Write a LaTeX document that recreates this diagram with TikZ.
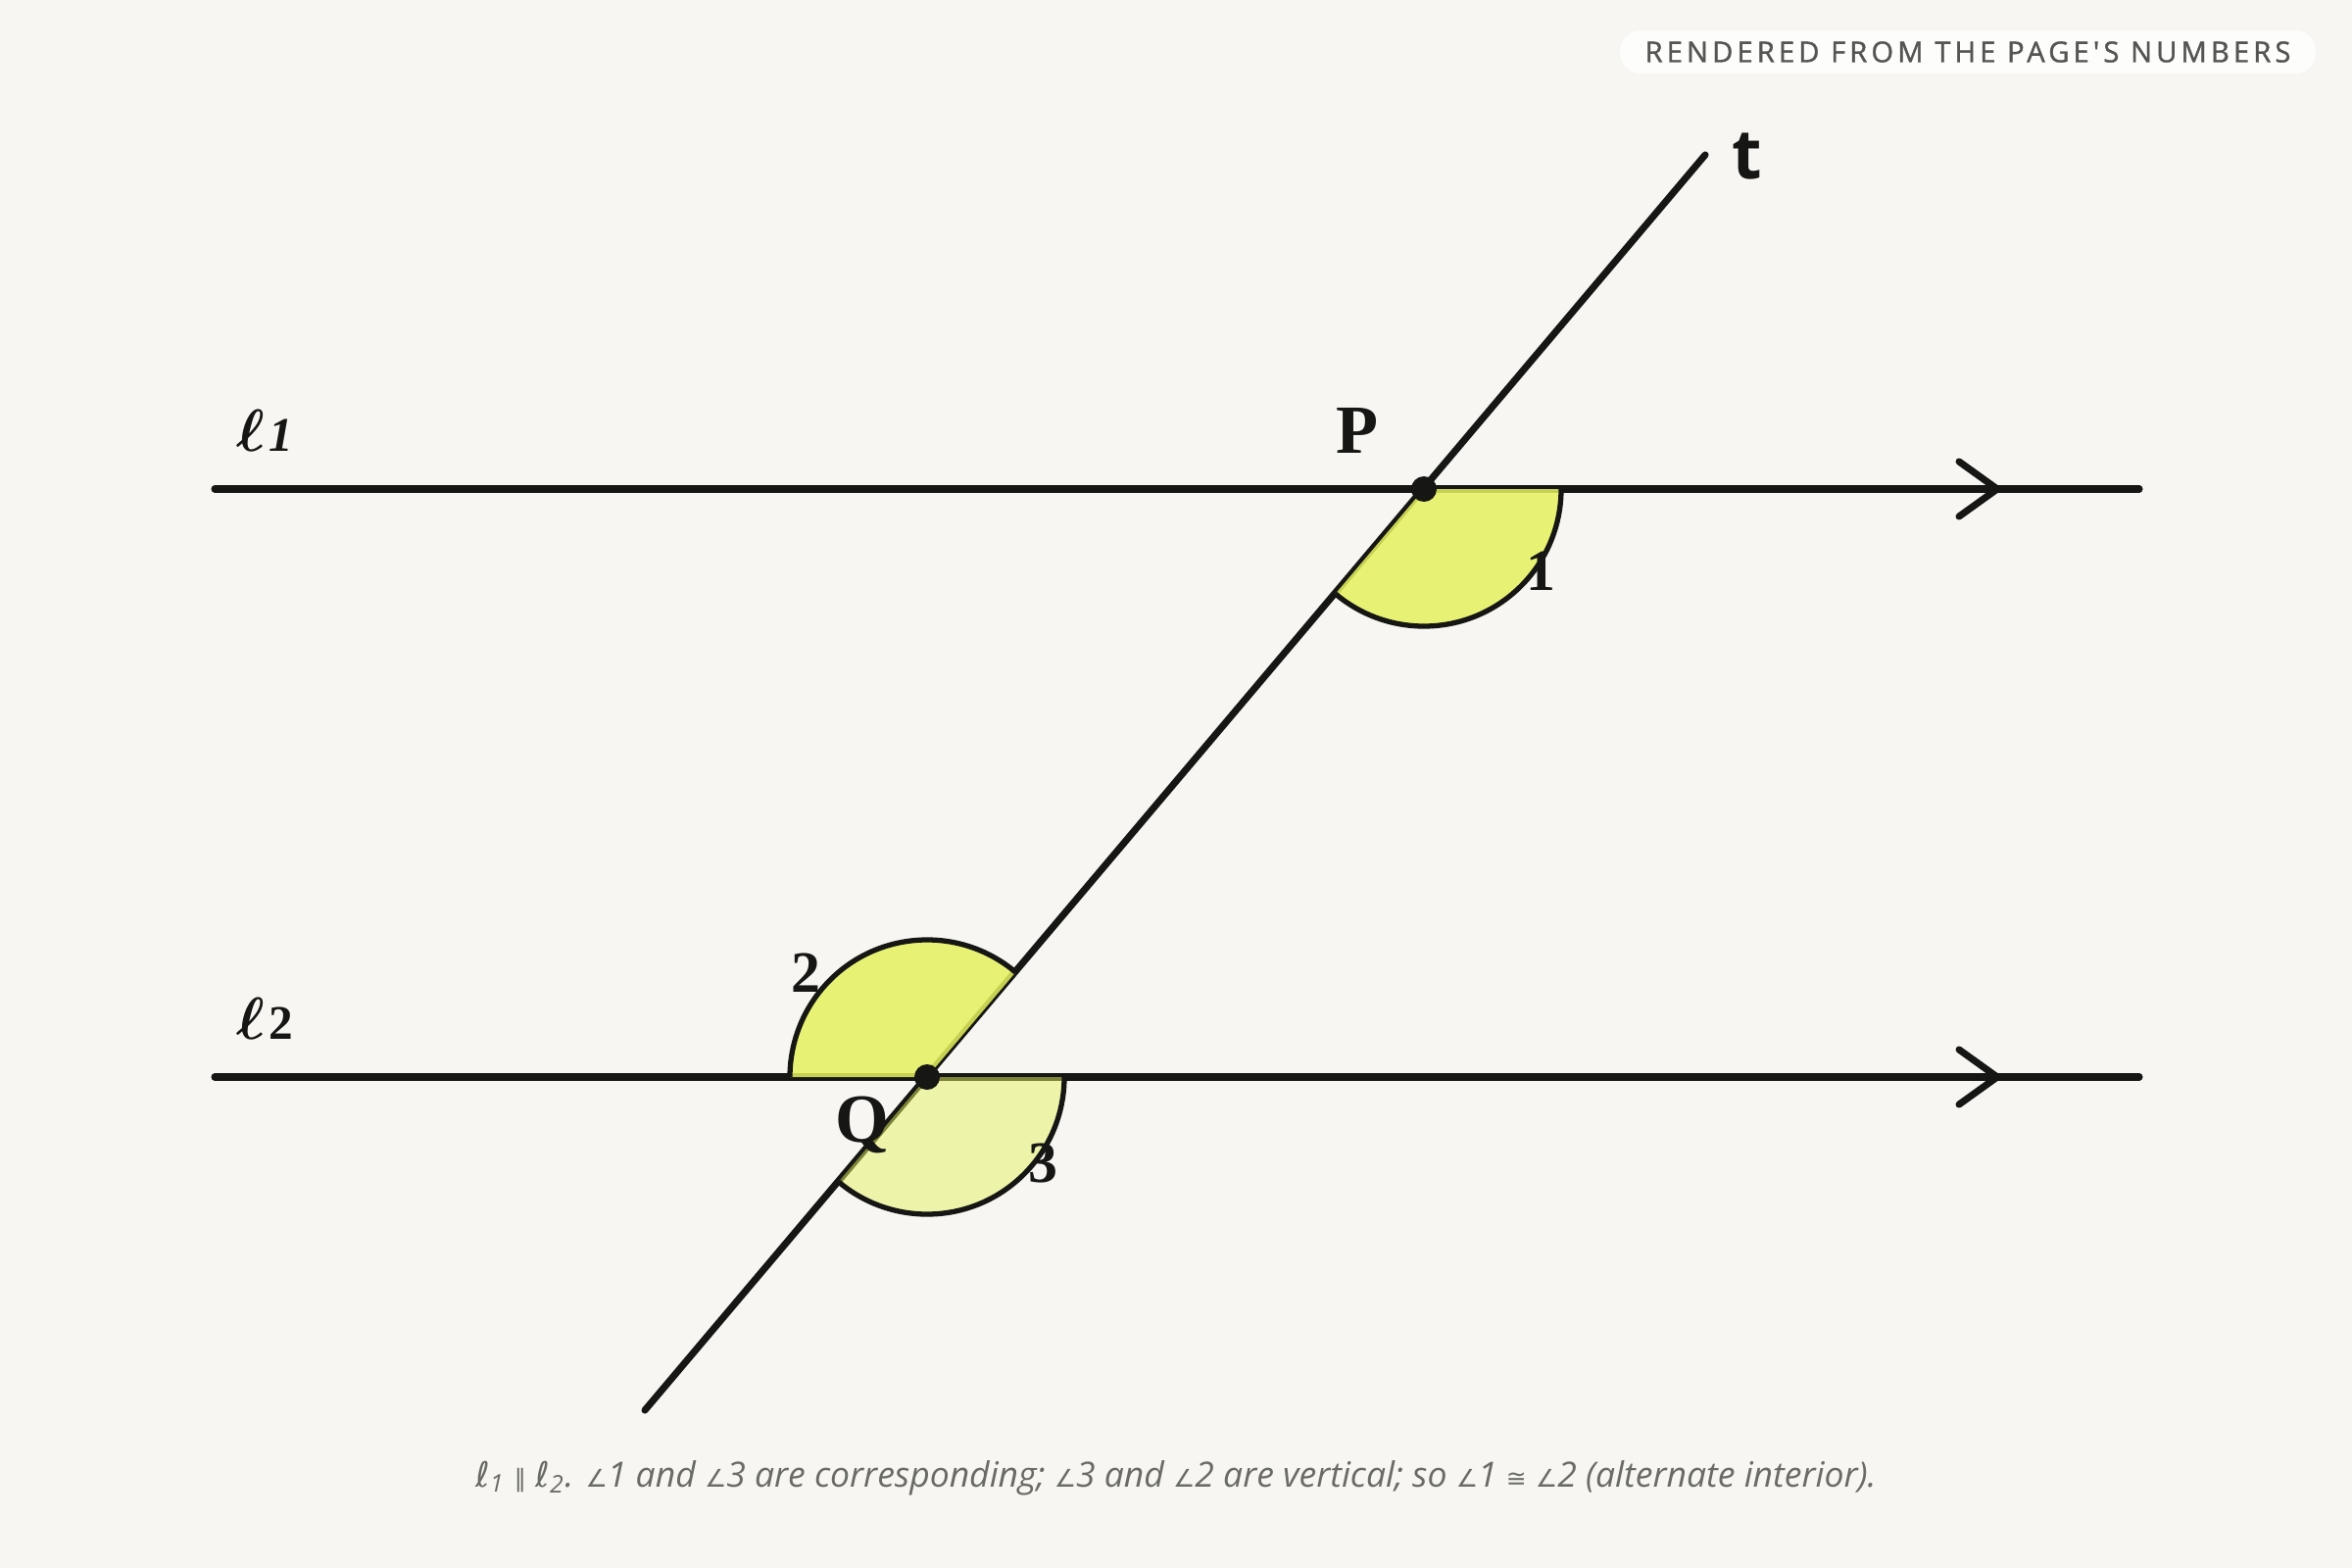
\documentclass[tikz,border=0pt]{standalone}
\usepackage{fontspec}
\setmainfont{Liberation Serif}
\newfontfamily\capfont{Open Sans}
\newfontfamily\badgefont[LetterSpace=14,FakeBold=1.2]{Open Sans}
\newfontfamily\symfont{DejaVu Sans}
\newfontfamily\symsmall[Scale=0.7]{DejaVu Sans}
\newfontfamily\tfont{Open Sans}
\definecolor{bg}{HTML}{F7F6F2}
\definecolor{ink}{HTML}{161614}
\definecolor{angfill}{HTML}{E5F25F}
\definecolor{capgray}{HTML}{6A6A66}
\definecolor{badgegray}{HTML}{555553}
\tikzset{
  geoline/.style={draw=ink, line width=2pt, line cap=round, line join=round},
  chevron/.style={draw=ink, line width=2pt, line cap=round, line join=miter},
  anglefill/.style={fill=angfill, fill opacity=0.85},
  anglefilllight/.style={fill=angfill, fill opacity=0.5},
  anglearc/.style={draw=ink, line width=1.5pt},
  vertexdot/.style={circle, fill=ink, inner sep=0pt, minimum size=26*0.01cm},
  ptlabel/.style={font=\fontsize{20}{24}\selectfont\bfseries, text=ink},
  numlabel/.style={font=\fontsize{17}{20}\selectfont\bfseries, text=ink},
  linelabel/.style={font=\fontsize{19}{24}\selectfont, text=ink},
}
\begin{document}
\begin{tikzpicture}[x=0.01cm,y=0.01cm]
\fill[bg] (0,0) rectangle (2400,-1600);
\useasboundingbox (0,0) rectangle (2400,-1600);
% key points
\coordinate (P) at (1453,-499);
\coordinate (Q) at (946,-1099);
\coordinate (tA) at (658,-1439);
\coordinate (tB) at (1740,-158);
\coordinate (l1a) at (219,-499);
\coordinate (l1b) at (2183,-499);
\coordinate (l2a) at (219,-1099);
\coordinate (l2b) at (2183,-1099);
\coordinate (c1t) at (2038,-499);
\coordinate (c1u) at (1999,-471);
\coordinate (c1d) at (1999,-527);
\coordinate (c2t) at (2038,-1099);
\coordinate (c2u) at (1999,-1071);
\coordinate (c2d) at (1999,-1127);
% lines
\draw[geoline] (l1a) -- (l1b);
\draw[geoline] (l2a) -- (l2b);
\draw[geoline] (tA) -- (tB);
\draw[chevron] (c1u) -- (c1t) -- (c1d);
\draw[chevron] (c2u) -- (c2t) -- (c2d);
% angle fills
\fill[anglefill] (P) -- ([shift={(0:140)}]P) arc[start angle=0, end angle=-130.2, radius=140] -- cycle;
\fill[anglefill] (Q) -- ([shift={(49.8:140)}]Q) arc[start angle=49.8, end angle=180, radius=140] -- cycle;
\fill[anglefilllight] (Q) -- ([shift={(0:140)}]Q) arc[start angle=0, end angle=-130.2, radius=140] -- cycle;
% arcs
\draw[anglearc] ([shift={(0:140)}]P) arc[start angle=0, end angle=-130.2, radius=140];
\draw[anglearc] ([shift={(49.8:140)}]Q) arc[start angle=49.8, end angle=180, radius=140];
\draw[anglearc] ([shift={(0:140)}]Q) arc[start angle=0, end angle=-130.2, radius=140];
% dots
\node[vertexdot] (Pdot) at (P) {};
\node[vertexdot] (Qdot) at (Q) {};
% labels
\node[ptlabel] (Plab) at (1385,-439) {P};
\node[ptlabel] (Qlab) at (880,-1148) {Q};
\node[linelabel, font=\fontsize{20}{24}\selectfont\tfont\bfseries] (tlab) at (1783,-160) {t};
\node[numlabel] (n1) at (1572,-583) {1};
\node[numlabel] (n2) at (822,-993) {2};
\node[numlabel] (n3) at (1064,-1187) {3};
\node[linelabel, anchor=base west, inner sep=0pt] (l1lab) at (241,-460) {{\boldmath$\ell$}\hspace{1pt}{\fontsize{14}{16}\selectfont\bfseries\itshape 1}};
\node[linelabel, anchor=base west, inner sep=0pt] (l2lab) at (241,-1060) {{\boldmath$\ell$}\hspace{1pt}{\fontsize{14}{16}\selectfont\bfseries 2}};
% badge
\node[fill=white, fill opacity=0.8, text opacity=1, rounded corners=6pt, minimum width=710*0.01cm, minimum height=44*0.01cm, inner sep=0pt,
  font=\fontsize{8.3}{10}\selectfont\badgefont, text=badgegray] (badge) at (2008,-53) {RENDERED FROM THE PAGE'S NUMBERS};
% caption
\node[font=\fontsize{10.1}{12}\selectfont\capfont\itshape, text=capgray] (caption) at (1200,-1508)
 {{\symfont\itshape ℓ}\textsubscript{1} {\symsmall ∥} {\symfont\itshape ℓ}\textsubscript{2}. {\symsmall ∠}1 and {\symsmall ∠}3 are corresponding; {\symsmall ∠}3 and {\symsmall ∠}2 are vertical; so {\symsmall ∠}1 {\symsmall ≅} {\symsmall ∠}2 (alternate interior).};
\end{tikzpicture}
\end{document}
